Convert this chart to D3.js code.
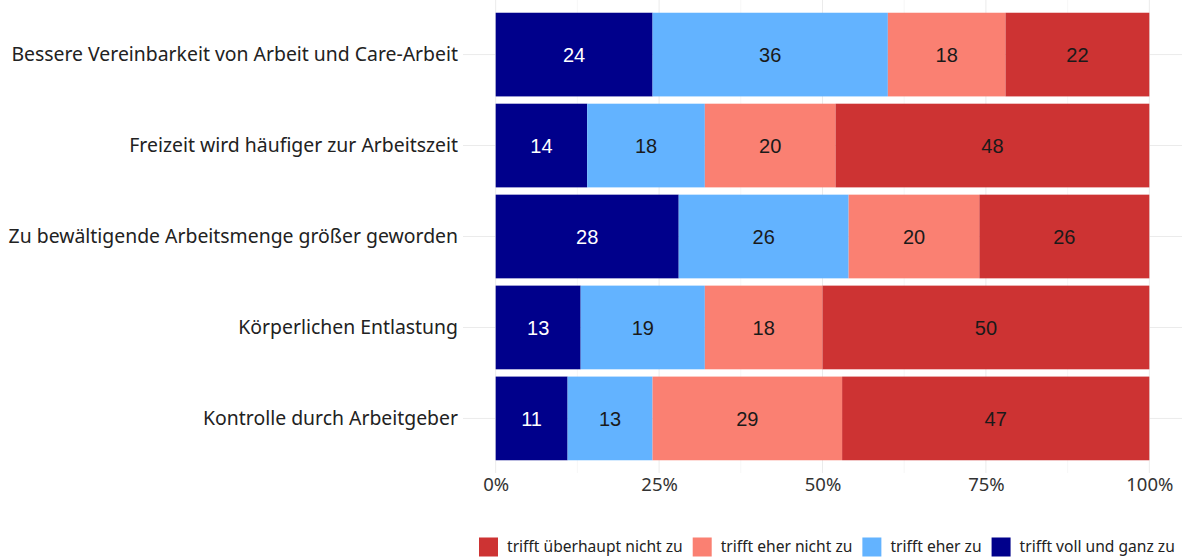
<!DOCTYPE html>
<html lang="de">
<head>
<meta charset="UTF-8">
<title>Arbeit und Care-Arbeit</title>
<style>
  body { margin: 0; background: #fff; }
  .cat { font-family: "Noto Sans", sans-serif; font-size: 19.4px; fill: #222; }
  .tick text { font-family: "Noto Sans", sans-serif; font-size: 18.5px; fill: #333; }
  .val { font-family: "Liberation Sans", Arial, sans-serif; font-size: 20px; }
  .leg { font-family: "Noto Sans", sans-serif; font-size: 15.6px; fill: #222; }
</style>
<script src="https://d3js.org/d3.v7.min.js"></script>
</head>
<body>
<div id="chart"></div>
<script>
const width = 1184, height = 557;

// data
const categories = [
  "Bessere Vereinbarkeit von Arbeit und Care-Arbeit",
  "Freizeit wird häufiger zur Arbeitszeit",
  "Zu bewältigende Arbeitsmenge größer geworden",
  "Körperlichen Entlastung",
  "Kontrolle durch Arbeitgeber"
];
const answers = ["trifft voll und ganz zu", "trifft eher zu", "trifft eher nicht zu", "trifft überhaupt nicht zu"];
const vollUndGanz = [24, 14, 28, 13, 11];
const eherZu = [36, 18, 26, 19, 13];
const eherNicht = [18, 20, 20, 18, 29];
const ueberhauptNicht = [22, 48, 26, 50, 47];
const xTicks = [0, 25, 50, 75, 100];
const colors = ["#00008B", "#63B3FF", "#FA8072", "#CD3333"];
const textColors = ["#fff", "#1a1a1a", "#1a1a1a", "#1a1a1a"];

const series = [vollUndGanz, eherZu, eherNicht, ueberhauptNicht];

const svg = d3.select("#chart").append("svg")
    .attr("width", width)
    .attr("height", height);

const panel = { left: 463, right: 1182, top: 0, bottom: 473 };

const x = d3.scaleLinear()
    .domain([-5, 105])
    .range([panel.left, panel.right]);

const y = d3.scaleBand()
    .domain(categories)
    .range([panel.top, panel.bottom])
    .paddingInner(0.08)
    .paddingOuter(0.14);

// grid
const grid = svg.append("g");
grid.selectAll(".minor")
    .data([12.5, 37.5, 62.5, 87.5])
    .join("line")
    .attr("x1", d => x(d)).attr("x2", d => x(d))
    .attr("y1", panel.top).attr("y2", panel.bottom)
    .attr("stroke", "#f2f2f2").attr("stroke-width", 0.6);
grid.selectAll(".major")
    .data(xTicks)
    .join("line")
    .attr("x1", d => x(d)).attr("x2", d => x(d))
    .attr("y1", panel.top).attr("y2", panel.bottom)
    .attr("stroke", "#ebebeb").attr("stroke-width", 1);
grid.selectAll(".hline")
    .data(categories)
    .join("line")
    .attr("x1", panel.left).attr("x2", panel.right)
    .attr("y1", d => y(d) + y.bandwidth() / 2)
    .attr("y2", d => y(d) + y.bandwidth() / 2)
    .attr("stroke", "#ebebeb").attr("stroke-width", 1);

// stacked bars
const rows = categories.map((c, i) => {
  let acc = 0;
  return series.map((s, k) => {
    const seg = { cat: c, k: k, x0: acc, x1: acc + s[i], v: s[i] };
    acc += s[i];
    return seg;
  });
}).flat();

svg.append("g").selectAll("rect")
    .data(rows)
    .join("rect")
    .attr("x", d => x(d.x0))
    .attr("width", d => x(d.x1) - x(d.x0))
    .attr("y", d => y(d.cat))
    .attr("height", y.bandwidth())
    .attr("fill", d => colors[d.k]);

svg.append("g").selectAll("text")
    .data(rows)
    .join("text")
    .attr("class", "val")
    .attr("x", d => x((d.x0 + d.x1) / 2))
    .attr("y", d => y(d.cat) + y.bandwidth() / 2)
    .attr("dy", "0.36em")
    .attr("text-anchor", "middle")
    .attr("fill", d => textColors[d.k])
    .text(d => d.v);

// category labels
svg.append("g").selectAll("text")
    .data(categories)
    .join("text")
    .attr("class", "cat")
    .attr("x", 458)
    .attr("y", d => y(d) + y.bandwidth() / 2)
    .attr("dy", "0.35em")
    .attr("text-anchor", "end")
    .text(d => d);

// x axis
const xAxis = d3.axisBottom(x)
    .tickValues(xTicks)
    .tickFormat(d => d + "%")
    .tickSize(0)
    .tickPadding(5);
svg.append("g")
    .attr("transform", `translate(0,${panel.bottom})`)
    .call(xAxis)
    .call(g => g.select(".domain").remove());

// legend
const legendOrder = [3, 2, 1, 0];
const legend = svg.append("g").attr("transform", "translate(479,547)");
let lx = 0;
legendOrder.forEach(k => {
  const item = legend.append("g").attr("transform", `translate(${lx},0)`);
  item.append("rect")
      .attr("x", 0).attr("y", -9.5)
      .attr("width", 19).attr("height", 19)
      .attr("fill", colors[k]);
  const t = item.append("text")
      .attr("class", "leg")
      .attr("x", 28)
      .attr("dy", "0.35em")
      .text(answers[k]);
  lx += 28 + t.node().getComputedTextLength() + 10;
});
</script>
</body>
</html>
